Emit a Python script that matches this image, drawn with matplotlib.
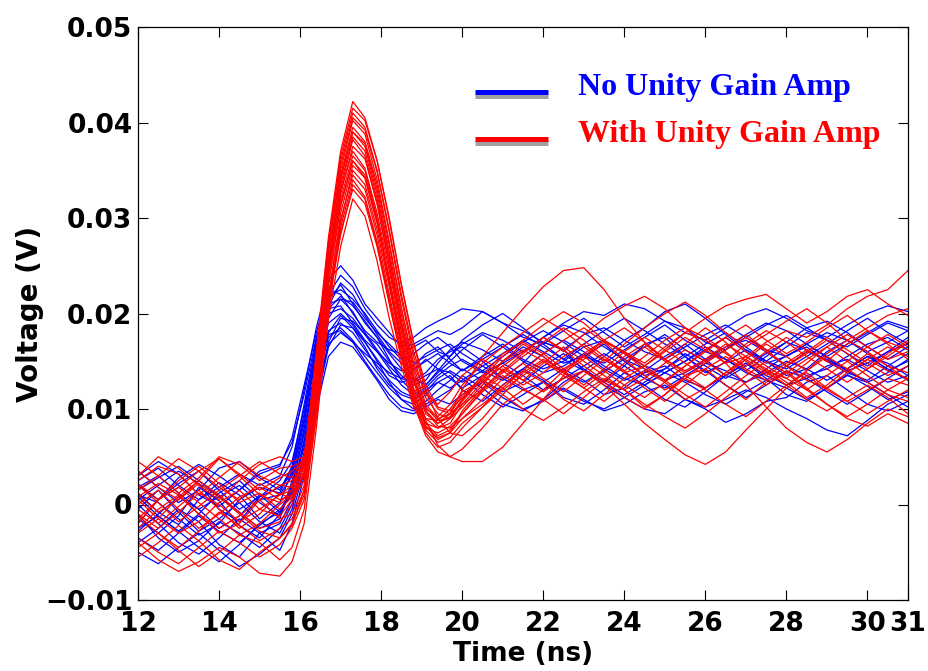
import matplotlib
matplotlib.use("Agg")
import matplotlib.pyplot as plt
from matplotlib.lines import Line2D
import numpy as np

# Sample times (ns): coarse on the baseline/tail, finer through the pulse
t_ns = [12.0, 12.5, 13.0, 13.5, 14.0, 14.5, 15.0, 15.5,
        15.8, 16.1, 16.4, 16.7, 17.0, 17.3, 17.6, 17.9, 18.2, 18.5, 18.8, 19.1, 19.4, 19.7,
        20.0, 20.5, 21.0, 21.5, 22.0, 22.5, 23.0, 23.5, 24.0, 24.5, 25.0, 25.5, 26.0,
        26.5, 27.0, 27.5, 28.0, 28.5, 29.0, 29.5, 30.0, 30.5, 31.0]

# Captured waveforms without the unity gain amplifier (mV)
no_amp_mv = [
    [1.2, -0.8, -2.1, 0.5, 2.3, 1.0, -1.5, 0.2,
     3.5, 9.0, 16.0, 21.5, 23.0, 21.0, 19.0, 17.5, 15.8, 14.2, 13.0, 13.8, 15.2, 16.0,
     16.5, 15.0, 13.2, 14.8, 17.0, 16.2, 14.0, 12.8, 14.5, 16.8, 17.5, 15.5, 13.8, 14.9, 16.2, 15.0, 13.5, 14.2, 16.0, 17.2, 15.8, 14.0, 15.0],
    [-1.5, -3.0, -1.2, 1.8, 0.4, -2.2, -3.5, -1.0,
     1.5, 6.0, 12.5, 17.5, 18.5, 17.2, 15.5, 13.8, 12.2, 11.0, 10.5, 11.5, 12.8, 13.5,
     12.0, 10.8, 12.5, 14.2, 13.0, 11.2, 10.5, 12.0, 13.8, 12.5, 11.0, 10.2, 11.8, 13.5, 14.8, 13.2, 11.5, 10.8, 12.2, 13.6, 12.4, 11.0, 11.8],
    [2.5, 3.8, 2.0, 0.5, 1.8, 3.2, 2.0, 3.0,
     6.0, 12.0, 18.5, 23.5, 25.0, 23.5, 21.0, 19.5, 18.0, 16.5, 16.8, 17.5, 18.2, 17.8,
     18.5, 20.2, 19.0, 17.5, 16.8, 18.2, 19.5, 18.0, 16.5, 17.8, 19.2, 18.5, 17.0, 16.2, 17.5, 18.8, 19.8, 18.5, 17.2, 16.5, 17.8, 19.0, 18.2],
    [-4.0, -2.5, -0.5, -1.8, -4.2, -5.5, -3.0, -2.0,
     0.5, 5.0, 11.5, 16.8, 18.0, 17.0, 15.0, 13.2, 11.5, 10.2, 9.8, 10.5, 11.2, 12.0,
     13.5, 12.2, 10.5, 9.8, 11.0, 12.8, 14.0, 12.5, 11.2, 10.0, 9.5, 11.0, 10.0, 8.6, 9.5, 10.8, 11.2, 12.8, 13.5, 12.0, 10.5, 9.8, 10.8],
    [0.5, 2.0, 3.5, 2.2, -0.5, -1.8, 0.8, 2.5,
     4.5, 10.0, 16.5, 20.5, 20.8, 19.0, 17.2, 16.0, 14.8, 14.0, 14.5, 15.8, 16.5, 15.2,
     14.0, 15.5, 16.8, 15.2, 14.2, 15.0, 16.5, 17.2, 15.8, 14.5, 13.8, 15.0, 16.2, 17.5, 16.0, 14.8, 15.5, 16.8, 15.4, 14.0, 14.8, 16.0, 16.8],
    [-2.8, -1.0, 0.8, -0.5, -2.5, -1.2, 1.0, -0.8,
     2.0, 7.5, 14.0, 19.0, 20.0, 18.8, 17.0, 15.2, 13.5, 12.8, 13.2, 12.5, 13.8, 15.0,
     16.2, 17.8, 16.5, 15.0, 13.8, 14.5, 15.8, 14.2, 13.0, 14.0, 15.5, 16.8, 15.2, 13.5, 12.8, 14.2, 15.6, 16.5, 15.0, 13.8, 13.0, 14.5, 15.8],
    [1.0, 0.2, -1.5, -3.2, -2.0, 0.5, 1.8, 1.2,
     3.8, 9.5, 16.8, 22.0, 24.0, 22.8, 20.5, 18.8, 17.5, 16.8, 17.5, 18.5, 19.2, 19.8,
     20.5, 20.2, 19.0, 18.2, 17.0, 16.2, 17.8, 18.5, 17.2, 16.0, 15.2, 16.5, 17.8, 18.8, 17.5, 16.2, 15.5, 16.8, 18.0, 17.2, 16.0, 17.0, 18.2],
    [-5.0, -6.2, -4.5, -3.0, -4.8, -6.5, -5.2, -3.5,
     -1.0, 3.5, 10.0, 15.5, 17.0, 16.5, 14.8, 13.0, 11.0, 9.8, 9.5, 10.2, 11.0, 10.5,
     11.5, 12.8, 11.2, 10.0, 10.8, 12.2, 11.0, 9.8, 10.5, 11.8, 12.5, 11.0, 10.2, 11.0, 12.0, 11.2, 10.0, 9.0, 7.8, 7.2, 8.8, 10.5, 11.5],
    [3.5, 1.8, 0.2, 1.5, 3.8, 4.5, 2.8, 1.5,
     4.0, 10.5, 17.2, 21.0, 21.5, 20.2, 18.0, 16.2, 14.5, 13.2, 12.8, 13.5, 14.2, 13.8,
     12.8, 14.0, 15.5, 17.0, 18.2, 17.0, 15.5, 14.8, 16.2, 17.5, 18.8, 17.2, 16.0, 15.2, 14.0, 15.5, 17.0, 18.5, 19.2, 18.0, 16.5, 15.2, 16.5],
    [-0.5, 1.5, -0.8, -2.8, -1.5, 0.2, -1.8, -3.0,
     -0.5, 4.5, 11.0, 17.0, 19.5, 19.2, 17.8, 16.0, 14.2, 12.5, 11.5, 12.2, 13.5, 14.5,
     15.2, 14.0, 13.0, 14.2, 15.8, 17.2, 16.0, 14.5, 13.2, 12.5, 13.8, 15.0, 16.5, 15.2, 13.8, 13.0, 14.5, 16.0, 15.2, 14.0, 12.8, 13.8, 15.2],
    [2.0, 0.5, 2.8, 4.2, 3.0, 1.5, 3.2, 4.0,
     7.0, 12.5, 18.0, 22.5, 22.0, 20.0, 18.2, 17.0, 16.2, 15.8, 16.5, 17.2, 16.0, 15.5,
     16.8, 18.0, 17.2, 16.0, 17.5, 19.0, 20.2, 19.8, 21.0, 20.5, 19.2, 18.0, 17.2, 18.5, 19.8, 20.5, 19.5, 18.2, 17.5, 18.8, 20.0, 20.8, 20.2],
    [-3.5, -4.8, -3.0, -1.2, -2.8, -4.0, -2.2, -0.5,
     1.0, 6.5, 13.5, 18.2, 19.0, 18.0, 16.2, 14.5, 13.0, 11.8, 11.2, 12.0, 12.8, 12.2,
     13.0, 14.5, 13.2, 12.0, 12.8, 14.2, 13.0, 11.5, 12.2, 13.8, 14.5, 13.0, 12.2, 13.5, 14.8, 13.5, 12.5, 13.2, 14.5, 15.2, 14.0, 12.8, 13.5],
    [0.8, -1.2, -2.8, -1.0, 1.2, 2.5, 0.5, 1.0,
     3.0, 8.5, 15.5, 20.0, 20.5, 19.5, 17.8, 16.8, 15.0, 13.5, 12.5, 13.0, 14.8, 16.2,
     17.0, 16.2, 15.0, 16.5, 15.5, 13.8, 12.8, 14.0, 15.2, 14.2, 13.0, 13.8, 15.2, 16.5, 17.2, 16.0, 14.5, 13.5, 14.2, 15.5, 16.8, 17.5, 16.2],
    [1.8, 3.0, 1.2, -0.5, 0.8, -0.8, -2.5, -1.5,
     2.5, 8.0, 14.5, 19.5, 21.5, 21.2, 19.5, 18.0, 16.8, 15.5, 14.8, 15.5, 16.2, 16.8,
     15.8, 14.5, 15.8, 17.2, 16.0, 14.8, 15.5, 16.8, 15.0, 13.5, 14.2, 15.8, 14.5, 13.2, 14.5, 15.8, 17.0, 16.2, 15.0, 14.2, 15.5, 14.2, 13.0],
    [-2.0, 0.5, 2.2, 3.5, 1.5, -0.5, 0.8, 1.8,
     3.2, 9.0, 15.8, 20.5, 21.8, 20.8, 19.2, 17.5, 15.2, 13.0, 11.8, 12.5, 14.0, 15.5,
     17.2, 18.8, 20.0, 18.5, 16.8, 15.2, 14.0, 15.5, 17.2, 18.5, 20.2, 21.0, 19.5, 17.8, 16.2, 15.0, 16.5, 18.0, 17.2, 15.8, 14.5, 16.0, 17.5],
    [0.0, -2.0, -4.0, -5.2, -3.5, -1.5, -3.0, -4.8,
     -2.0, 3.0, 10.5, 16.5, 18.8, 18.5, 17.0, 15.0, 12.8, 11.0, 10.0, 10.8, 12.0, 13.0,
     14.2, 13.0, 11.8, 12.8, 14.5, 15.8, 14.2, 12.8, 11.5, 12.8, 14.2, 15.5, 14.0, 12.5, 11.2, 12.5, 14.0, 13.2, 11.8, 10.5, 11.8, 13.2, 14.5],
    [3.0, 4.5, 3.2, 1.0, -0.2, 1.5, 3.5, 4.2,
     6.5, 11.5, 17.5, 21.8, 22.5, 21.5, 20.0, 18.2, 16.5, 15.2, 15.8, 16.8, 17.5, 16.5,
     15.0, 13.8, 14.8, 16.0, 17.5, 18.8, 18.0, 16.5, 15.2, 16.5, 17.8, 16.2, 15.0, 16.2, 17.8, 19.0, 18.2, 16.8, 15.5, 16.8, 18.0, 19.2, 18.5],
    [-1.0, -3.5, -5.0, -3.8, -1.8, -3.0, -4.5, -2.5,
     0.0, 5.5, 12.8, 18.0, 19.8, 18.5, 16.5, 14.2, 12.5, 11.5, 11.0, 11.8, 13.2, 14.0,
     13.2, 11.5, 10.2, 11.5, 12.8, 12.0, 10.8, 10.0, 11.2, 12.5, 13.8, 12.8, 11.5, 10.5, 11.8, 13.0, 12.2, 11.0, 12.2, 13.5, 12.8, 11.5, 10.2],
    [1.5, 2.8, 4.0, 2.5, 0.8, 2.0, 0.2, -1.2,
     1.8, 7.5, 14.8, 20.8, 23.2, 22.0, 19.8, 17.8, 16.0, 14.8, 14.2, 15.0, 15.8, 14.8,
     14.0, 15.2, 16.5, 17.8, 16.5, 15.2, 16.8, 18.2, 19.5, 18.2, 16.8, 15.5, 16.8, 18.0, 16.5, 15.0, 14.2, 15.5, 16.8, 18.2, 19.5, 18.0, 16.8],
    [-2.5, -1.2, -2.8, -4.5, -6.0, -4.2, -2.0, -0.8,
     1.2, 6.8, 13.2, 17.8, 18.2, 17.0, 15.8, 14.8, 13.8, 13.2, 14.0, 15.2, 14.2, 13.2,
     12.2, 13.5, 14.8, 13.5, 12.0, 13.2, 14.5, 15.8, 14.5, 13.2, 12.2, 13.5, 14.8, 14.0, 12.8, 13.8, 15.0, 14.2, 13.0, 14.2, 15.5, 14.8, 13.5],
]

# Captured waveforms with the unity gain amplifier (mV)
with_amp_mv = [
    [2.5, 4.0, 3.2, 1.0, 2.8, 4.5, 3.0, 2.0,
     2.5, 4.0, 16.0, 28.0, 37.0, 42.2, 40.5, 36.0, 30.0, 23.0, 17.0, 12.5, 10.2, 9.8,
     11.2, 13.5, 15.8, 17.0, 15.8, 14.2, 15.5, 17.2, 18.5, 17.0, 15.2, 14.0, 15.2, 16.8, 15.5, 14.0, 13.2, 14.8, 16.5, 17.8, 16.5, 15.2, 16.0],
    [-3.5, -5.0, -6.2, -4.5, -2.8, -4.0, -5.5, -4.2,
     -2.5, 0.5, 9.0, 19.5, 27.0, 32.0, 30.2, 25.5, 19.5, 14.5, 10.2, 8.0, 7.5, 8.2,
     9.5, 11.8, 13.5, 12.2, 10.8, 12.5, 14.0, 12.8, 11.2, 10.0, 11.5, 13.2, 12.0, 10.5, 9.2, 10.8, 12.5, 13.8, 12.2, 10.8, 9.5, 10.8, 12.0],
    [0.5, -1.5, -3.0, -1.8, 0.2, 1.5, -0.5, -1.2,
     0.5, 3.5, 13.0, 24.5, 33.0, 38.2, 36.5, 31.5, 25.0, 18.5, 13.0, 9.5, 8.5, 9.5,
     12.0, 15.5, 18.0, 20.5, 22.8, 24.5, 24.8, 22.5, 19.5, 17.0, 15.2, 16.8, 18.5, 17.0, 15.0, 13.5, 14.8, 16.2, 15.0, 13.8, 15.2, 16.5, 15.5],
    [-2.0, 0.5, 1.8, 0.2, -1.5, -3.2, -2.0, 0.0,
     1.0, 3.0, 12.0, 23.0, 31.5, 36.0, 34.2, 29.5, 23.5, 17.5, 12.2, 9.0, 8.0, 8.5,
     10.5, 12.8, 14.5, 13.0, 11.8, 13.2, 14.0, 12.5, 10.5, 8.5, 6.8, 5.2, 4.2, 5.5, 7.8, 10.0, 12.2, 13.5, 12.0, 10.8, 12.0, 13.2, 12.5],
    [3.5, 1.8, 0.5, 2.5, 4.8, 3.2, 1.5, 2.8,
     3.5, 4.5, 15.0, 26.5, 35.0, 40.2, 38.8, 34.0, 27.5, 20.5, 14.8, 11.5, 10.5, 11.8,
     13.5, 15.2, 14.0, 12.5, 13.8, 15.5, 16.8, 15.2, 13.8, 14.5, 16.0, 17.5, 16.2, 14.8, 15.5, 17.0, 18.2, 17.5, 18.8, 20.5, 21.8, 22.5, 24.5],
    [-5.5, -4.0, -2.2, -3.8, -5.8, -6.8, -5.0, -3.5,
     -2.0, 1.0, 10.0, 21.0, 29.0, 34.0, 32.2, 27.5, 21.5, 15.5, 10.5, 7.2, 5.5, 5.0,
     5.8, 8.0, 10.5, 12.0, 11.0, 9.5, 11.2, 13.0, 12.0, 10.2, 11.5, 13.5, 14.2, 12.5, 11.0, 12.8, 14.0, 12.2, 10.5, 9.2, 10.5, 12.0, 11.2],
    [1.5, 3.0, 4.8, 3.5, 1.8, 0.5, 2.2, 1.0,
     1.5, 4.5, 14.0, 25.5, 34.0, 39.0, 37.5, 32.5, 26.0, 19.0, 13.0, 8.8, 6.2, 5.0,
     4.5, 4.5, 6.0, 8.5, 11.0, 13.5, 15.8, 17.2, 16.0, 14.8, 16.5, 18.0, 17.2, 15.8, 14.5, 16.0, 17.5, 16.2, 15.0, 16.8, 18.2, 17.0, 16.2],
    [-1.0, -2.5, -0.8, 1.2, 0.0, -1.8, -0.5, 1.0,
     2.0, 5.0, 15.5, 27.5, 36.0, 41.0, 39.5, 35.0, 28.8, 22.0, 16.0, 12.0, 10.0, 9.5,
     10.5, 12.0, 13.8, 15.5, 17.0, 18.5, 17.2, 15.5, 14.0, 15.5, 17.2, 18.5, 17.5, 16.0, 14.2, 13.0, 14.5, 16.0, 17.5, 16.2, 14.8, 13.5, 14.5],
    [-4.0, -5.8, -7.0, -6.0, -4.5, -5.5, -7.2, -7.5,
     -6.0, -2.0, 8.0, 20.0, 29.5, 35.0, 33.5, 28.8, 22.8, 16.5, 11.0, 7.5, 6.0, 6.5,
     8.0, 10.2, 12.5, 14.0, 12.8, 11.0, 9.8, 11.5, 13.2, 14.5, 13.0, 11.5, 10.2, 11.8, 13.5, 15.0, 13.8, 12.0, 10.5, 9.0, 8.2, 9.5, 8.5],
    [4.5, 3.0, 1.2, 2.8, 5.0, 4.2, 2.5, 3.8,
     4.0, 4.5, 14.5, 25.0, 32.8, 37.0, 35.2, 30.5, 24.5, 18.0, 12.8, 10.0, 9.2, 10.5,
     12.5, 14.8, 16.5, 18.0, 19.5, 18.2, 16.5, 15.0, 16.8, 18.5, 20.0, 21.2, 19.8, 18.0, 16.5, 17.8, 19.2, 20.5, 19.0, 17.2, 18.5, 19.8, 20.5],
    [-2.5, -0.5, 1.0, -1.0, -3.0, -2.0, 0.5, -1.5,
     -1.0, 2.0, 10.5, 21.5, 28.5, 33.0, 31.5, 27.0, 21.0, 15.2, 10.8, 8.5, 8.0, 9.0,
     11.0, 13.2, 15.0, 16.2, 15.0, 13.5, 12.2, 13.8, 15.5, 16.8, 15.2, 13.8, 15.0, 16.5, 17.8, 16.2, 14.5, 13.0, 12.2, 13.8, 15.2, 14.0, 13.2],
    [0.0, 1.5, -0.5, -2.5, -1.0, 0.8, 1.8, 0.5,
     1.0, 4.0, 13.5, 25.0, 34.5, 39.5, 38.0, 33.5, 27.2, 20.5, 14.5, 10.5, 9.0, 9.5,
     11.5, 13.0, 14.5, 16.0, 17.5, 16.0, 17.8, 19.5, 20.8, 21.8, 20.5, 18.5, 16.5, 14.8, 12.5, 10.2, 8.0, 6.5, 5.5, 6.8, 8.5, 10.0, 9.2],
    [2.0, 0.2, -1.8, -0.2, 1.5, 3.0, 4.5, 3.2,
     2.8, 5.0, 13.0, 24.0, 32.0, 36.5, 35.0, 30.0, 23.8, 17.2, 11.8, 8.5, 7.2, 7.8,
     9.5, 12.0, 14.2, 13.0, 14.8, 16.5, 15.0, 13.5, 12.0, 13.2, 14.8, 16.2, 15.0, 13.5, 15.2, 16.8, 15.5, 14.0, 15.8, 17.2, 16.0, 14.5, 13.8],
    [-3.0, -1.5, 0.8, 2.5, 1.0, -0.8, -2.5, -1.8,
     0.0, 3.5, 14.0, 26.5, 35.5, 40.5, 39.2, 34.8, 28.5, 21.5, 15.5, 11.2, 9.5, 9.0,
     10.2, 12.5, 15.0, 16.8, 15.5, 13.8, 15.2, 17.0, 16.0, 14.5, 16.2, 18.0, 19.5, 20.8, 21.5, 22.0, 20.5, 19.0, 20.2, 21.8, 22.5, 21.0, 19.8],
    [1.0, -0.8, 0.5, 2.2, 0.8, -1.0, -2.8, -3.5,
     -2.2, 1.5, 10.5, 22.0, 29.8, 34.5, 33.0, 28.2, 22.0, 16.0, 11.0, 7.8, 6.5, 7.0,
     8.5, 10.2, 12.0, 13.5, 15.0, 13.8, 12.2, 10.8, 12.5, 14.0, 12.8, 11.0, 12.2, 13.8, 15.2, 13.8, 12.5, 14.0, 15.5, 14.2, 12.8, 11.5, 10.8],
    [-1.5, 0.5, 2.5, 4.0, 2.2, 0.2, 1.2, -0.5,
     0.8, 4.0, 13.5, 25.0, 33.5, 38.5, 37.0, 32.0, 25.8, 19.2, 13.5, 9.8, 8.2, 8.0,
     9.0, 10.5, 12.2, 14.0, 15.8, 17.2, 18.5, 17.0, 15.2, 13.5, 12.0, 13.2, 14.8, 16.2, 17.5, 16.0, 14.5, 15.8, 17.2, 15.8, 14.2, 15.5, 17.0],
    [3.0, 5.0, 3.8, 2.0, 0.5, 2.5, 4.2, 5.0,
     4.5, 5.0, 12.5, 24.0, 32.5, 37.5, 36.2, 31.5, 25.2, 18.8, 13.2, 9.8, 8.5, 9.2,
     11.0, 13.5, 12.2, 10.5, 12.0, 14.0, 15.5, 14.0, 12.5, 11.2, 12.8, 14.5, 16.2, 17.5, 16.0, 14.5, 13.2, 12.0, 13.5, 15.0, 16.5, 17.8, 16.5],
    [-4.5, -3.0, -4.8, -6.5, -5.0, -3.2, -4.0, -5.8,
     -4.5, -0.5, 9.5, 21.5, 30.5, 35.5, 34.2, 29.5, 23.5, 17.0, 11.8, 8.2, 6.8, 7.5,
     9.8, 12.2, 14.0, 15.8, 17.5, 16.2, 14.5, 13.0, 14.8, 16.5, 15.0, 13.5, 12.2, 13.8, 15.5, 14.2, 12.8, 11.2, 12.5, 14.2, 15.8, 14.5, 13.0],
    [0.8, 2.2, 1.0, -1.0, -2.5, -1.2, 0.5, 2.0,
     1.8, 4.5, 14.5, 27.0, 36.5, 41.5, 40.2, 36.0, 29.8, 23.0, 16.8, 12.0, 9.0, 7.5,
     7.2, 9.0, 11.5, 13.8, 15.2, 14.0, 12.5, 14.2, 16.0, 17.5, 16.2, 14.8, 13.5, 15.0, 16.8, 18.2, 17.0, 15.5, 14.2, 12.8, 14.2, 15.8, 17.2],
    [-1.2, -3.0, -4.5, -2.8, -0.8, -2.2, -3.8, -2.5,
     -1.5, 1.5, 10.0, 20.8, 28.2, 33.5, 32.0, 27.2, 21.2, 15.5, 11.2, 9.0, 8.8, 10.0,
     11.8, 13.0, 11.5, 10.0, 8.8, 10.2, 11.8, 13.2, 12.0, 10.5, 9.2, 8.0, 9.5, 11.2, 12.8, 14.0, 12.5, 11.0, 9.8, 11.2, 12.5, 11.2, 9.5],
    [2.2, 0.5, 1.8, 3.5, 4.8, 3.0, 1.0, 0.2,
     1.5, 4.5, 14.0, 25.5, 34.2, 39.0, 37.8, 33.0, 26.5, 19.8, 14.0, 10.2, 8.8, 9.0,
     10.8, 13.2, 15.5, 17.2, 18.8, 20.2, 19.0, 17.2, 15.8, 14.2, 13.0, 14.5, 16.0, 17.5, 18.8, 17.2, 15.8, 17.0, 18.5, 19.8, 18.2, 16.8, 15.2],
    [-0.5, -2.0, -0.2, 1.5, -0.5, -2.5, -1.0, 1.2,
     0.5, 2.5, 11.5, 23.0, 31.2, 36.0, 34.5, 29.8, 23.2, 16.8, 11.5, 8.2, 7.0, 7.5,
     9.0, 11.0, 13.2, 14.8, 13.2, 11.8, 13.5, 15.2, 14.0, 12.2, 10.8, 12.5, 14.2, 15.5, 14.0, 12.5, 13.8, 15.2, 16.5, 15.0, 13.5, 12.0, 13.2],
]

series_names = ["No Unity Gain Amp", "With Unity Gain Amp"]
series_colors = ["#0000ff", "#ff0000"]

x_ticks = [12, 14, 16, 18, 20, 22, 24, 26, 28, 30, 31]
y_ticks = [-0.01, 0.0, 0.01, 0.02, 0.03, 0.04, 0.05]
y_tick_labels = ["\u22120.01", "0", "0.01", "0.02", "0.03", "0.04", "0.05"]

W, H = 929, 671
fig = plt.figure(figsize=(W / 100, H / 100), dpi=100)
ax = fig.add_axes([138 / W, 1 - 600 / H, (908 - 138) / W, (600 - 27) / H])

t = np.asarray(t_ns)
for trace in no_amp_mv:
    ax.plot(t, np.asarray(trace) / 1000.0, color=series_colors[0], lw=0.9)
for trace in with_amp_mv:
    ax.plot(t, np.asarray(trace) / 1000.0, color=series_colors[1], lw=0.9)

ax.set_xlim(12, 31)
ax.set_ylim(-0.01, 0.05)
ax.set_xticks(x_ticks)
ax.set_xticklabels([str(v) for v in x_ticks])
ax.set_yticks(y_ticks)
ax.set_yticklabels(y_tick_labels)

for lab in ax.get_xticklabels() + ax.get_yticklabels():
    lab.set_fontfamily("DejaVu Sans")
    lab.set_fontweight("bold")
    lab.set_fontsize(19)

ax.tick_params(direction="in", length=7, width=0.8, top=True, right=True)
ax.tick_params(axis="x", pad=8)
ax.tick_params(axis="y", pad=4)
for sp in ax.spines.values():
    sp.set_linewidth(0.9)
    sp.set_color("black")

ax.set_xlabel("Time (ns)", fontsize=19, fontweight="bold", labelpad=3)
ax.set_ylabel("Voltage (V)", fontsize=20, fontweight="bold", labelpad=1)

# Legend: thick swatch with a grey drop shadow, serif bold label in series colour
swatch_x = (475 / W, 548 / W)
legend_rows = [(92, 94.5), (139, 141.7)]
for (ly, text_base), name, col in zip(legend_rows, series_names, series_colors):
    y_shadow = 1 - (ly + 3.5) / H
    y_line = 1 - ly / H
    fig.add_artist(Line2D(swatch_x, (y_shadow, y_shadow), transform=fig.transFigure,
                          color="#a0a0a0", lw=3.6, solid_capstyle="butt"))
    fig.add_artist(Line2D(swatch_x, (y_line, y_line), transform=fig.transFigure,
                          color=col, lw=3.6, solid_capstyle="butt"))
    fig.text(578 / W, 1 - text_base / H, name, color=col, fontsize=23,
             fontweight="bold", family="Liberation Serif", va="baseline", ha="left")

fig.savefig("out.png", dpi=100)
